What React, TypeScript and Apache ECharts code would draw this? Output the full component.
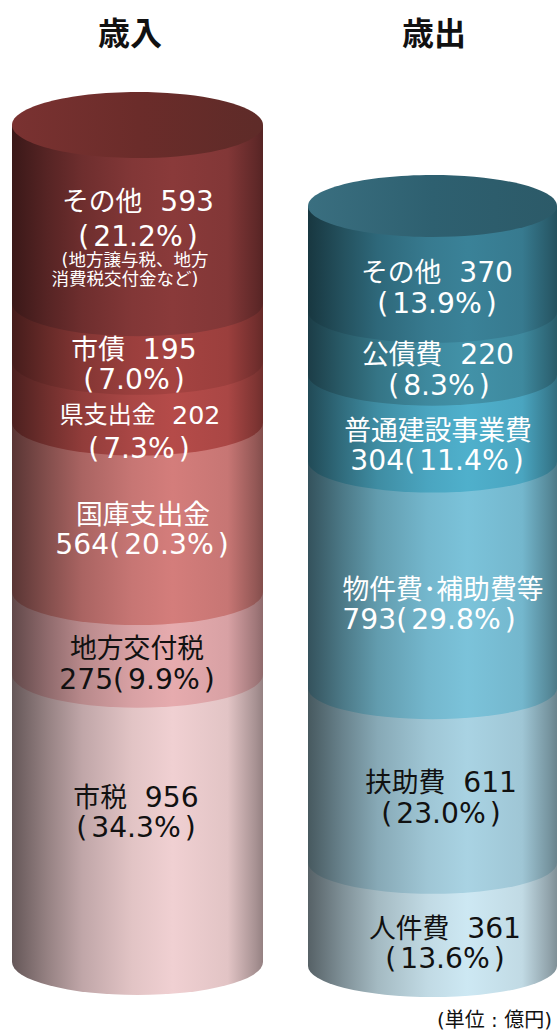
import React, { useEffect, useRef } from "react";
import * as echarts from "echarts";

// Values listed from the bottom of each cylinder to the top
const revenueNames = ["市税", "地方交付税", "国庫支出金", "県支出金", "市債", "その他"];
const revenueValues = [956, 275, 564, 202, 195, 593];
const revenueColors = ["#f0d0d2", "#e6abae", "#d47d7b", "#b54b49", "#a54341", "#8a3a3a"];
const revenueTop = ["#7a3231", "#6b2c2a", "#5e2b28"];

const expenseNames = ["人件費", "扶助費", "物件費・補助費等", "普通建設事業費", "公債費", "その他"];
const expenseValues = [361, 611, 793, 304, 220, 370];
const expenseColors = ["#cde8f3", "#a9d3e3", "#7bc3da", "#4fb0cc", "#4292a8", "#3a8298"];
const expenseTop = ["#3a6f80", "#2e6070", "#2c5a68"];

const WHITE = "#ffffff";
const DARK = "#111111";

// [text, centre x, centre y, colour, size factor]
const labelLines: [string, number, number, string, number][] = [
  ["その他  593", 138, 201, WHITE, 1],
  ["(21.2%)", 138, 236, WHITE, 1],
  ["市債  195", 134, 349, WHITE, 1],
  ["(7.0%)", 134, 379, WHITE, 1],
  ["県支出金  202", 140, 415, WHITE, 0.9],
  ["(7.3%)", 139, 448, WHITE, 1],
  ["国庫支出金", 143, 514, WHITE, 1],
  ["564(20.3%)", 142, 544, WHITE, 1],
  ["地方交付税", 137, 648, DARK, 1],
  ["275(9.9%)", 137, 679, DARK, 1],
  ["市税  956", 136, 797, DARK, 1],
  ["(34.3%)", 136, 827, DARK, 1],
  ["その他  370", 437, 272, WHITE, 1],
  ["(13.9%)", 437, 303, WHITE, 1],
  ["公債費  220", 438, 354, WHITE, 1],
  ["(8.3%)", 439, 385, WHITE, 1],
  ["普通建設事業費", 438, 430, WHITE, 1],
  ["304(11.4%)", 437, 460, WHITE, 1],
  ["物件費･補助費等", 443, 589, WHITE, 1],
  ["793(29.8%)", 429, 619, WHITE, 1],
  ["扶助費  611", 441, 782, DARK, 1],
  ["(23.0%)", 441, 813, DARK, 1],
  ["人件費  361", 445, 928, DARK, 1],
  ["(13.6%)", 445, 958, DARK, 1],
];
const noteLines: [string, number, number][] = [
  ["(地方譲与税、地方", 135, 260],
  ["消費税交付金など)", 125, 279],
];

const LATIN = '"DejaVu Sans",sans-serif';
const CJK = '"Noto Sans CJK JP",sans-serif';
const MIXED = '"DejaVu Sans","Noto Sans CJK JP",sans-serif';

function shade(hex: string, k: number) {
  const n = parseInt(hex.slice(1), 16);
  const ch = (s: number) => Math.round(((n >> s) & 255) * k);
  return `rgb(${ch(16)},${ch(8)},${ch(0)})`;
}
function bodyFill(c: string) {
  return new echarts.graphic.LinearGradient(0, 0, 1, 0, [
    { offset: 0, color: shade(c, 0.42) },
    { offset: 0.14, color: shade(c, 0.62) },
    { offset: 0.28, color: shade(c, 0.8) },
    { offset: 0.48, color: shade(c, 0.94) },
    { offset: 0.64, color: c },
    { offset: 0.86, color: shade(c, 0.94) },
    { offset: 0.97, color: shade(c, 0.7) },
    { offset: 1, color: shade(c, 0.62) },
  ]);
}

function cylinderSeries(
  axisIndex: number,
  names: string[],
  values: number[],
  colors: string[],
  topColors: string[],
  ry: number
) {
  let sum = 0;
  const data = values.map((v, i) => {
    const start = sum;
    sum += v;
    return { name: names[i], value: [0, start, sum] };
  });
  return {
    type: "custom",
    xAxisIndex: axisIndex,
    yAxisIndex: axisIndex,
    clip: false,
    silent: true,
    data,
    encode: { x: 0, y: [1, 2] },
    renderItem: (params: any, api: any) => {
      const bottom = api.coord([0, api.value(1)]);
      const top = api.coord([0, api.value(2)]);
      const w = api.size([1, 0])[0];
      const rx = w / 2;
      const xl = bottom[0] - rx;
      const xr = bottom[0] + rx;
      const yt = top[1];
      const yb = bottom[1];
      const children: any[] = [
        {
          type: "path",
          shape: {
            pathData: `M${xl} ${yt}L${xr} ${yt}L${xr} ${yb}A${rx} ${ry} 0 0 1 ${xl} ${yb}Z`,
          },
          style: { fill: bodyFill(colors[params.dataIndex]) },
        },
      ];
      if (params.dataIndex === values.length - 1) {
        children.push({
          type: "ellipse",
          shape: { cx: bottom[0], cy: yt, rx, ry },
          style: {
            fill: new echarts.graphic.LinearGradient(0, 0, 1, 0, [
              { offset: 0, color: topColors[0] },
              { offset: 0.5, color: topColors[1] },
              { offset: 1, color: topColors[2] },
            ]),
          },
        });
      }
      return { type: "group", children };
    },
  };
}

// Meiryo-like mix: wide latin digits beside slightly smaller kanji
function toRich(t: string) {
  return t
    .replace(/\(/g, "\u0001")
    .replace(/\)/g, "\u0002")
    .split(/(\u0001|\u0002|[0-9.% ]+)/)
    .filter((s) => s.length)
    .map((s) => {
      if (s === "\u0001") return "{pl|(}";
      if (s === "\u0002") return "{pr|)}";
      return /^[0-9.% ]+$/.test(s) ? `{d|${s}}` : `{k|${s}}`;
    })
    .join("");
}

function labelText(t: string, x: number, y: number, fill: string, f: number) {
  const d = { fontFamily: LATIN, fontSize: 28.2 * f, fill, lineHeight: 30 };
  return {
    type: "text",
    x,
    y,
    silent: true,
    z: 10,
    style: {
      text: toRich(t),
      fill,
      align: "center",
      verticalAlign: "middle",
      rich: {
        k: { fontFamily: MIXED, fontSize: 26.8 * f, fill, lineHeight: 30 },
        d,
        pl: { ...d, padding: [0, 4, 0, 0] },
        pr: { ...d, padding: [0, 0, 0, 4] },
      },
    },
  };
}

export default function App() {
  const ref = useRef<HTMLDivElement>(null);
  useEffect(() => {
    const chart = echarts.init(ref.current!, null, { renderer: "svg" });
    const text = (t: string, x: number, y: number, fill: string, size: number, weight: any = "normal", align: any = "center", family: string = CJK) => ({
      type: "text",
      x,
      y,
      silent: true,
      z: 10,
      style: { text: t, fill, font: `${weight} ${size}px ${family}`, textAlign: align, textVerticalAlign: "middle" },
    });
    chart.setOption({
      animation: false,
      backgroundColor: "#ffffff",
      grid: [
        { left: 12, top: 125, width: 251, height: 837 },
        { left: 308, top: 206, width: 251, height: 760 },
      ],
      xAxis: [
        { type: "category", gridIndex: 0, show: false, data: ["歳入"] },
        { type: "category", gridIndex: 1, show: false, data: ["歳出"] },
      ],
      yAxis: [
        { type: "value", gridIndex: 0, show: false, min: 0, max: revenueValues.reduce((a, b) => a + b, 0) },
        { type: "value", gridIndex: 1, show: false, min: 0, max: expenseValues.reduce((a, b) => a + b, 0) },
      ],
      series: [
        cylinderSeries(0, revenueNames, revenueValues, revenueColors, revenueTop, 33),
        cylinderSeries(1, expenseNames, expenseValues, expenseColors, expenseTop, 31),
      ],
      graphic: [
        text("歳入", 130, 31, DARK, 32, "bold"),
        text("歳出", 434, 31, DARK, 32, "bold"),
        ...labelLines.map(([t, x, y, c, f]) => labelText(t, x, y, c, f)),
        ...noteLines.map(([t, x, y]) => text(t, x, y, WHITE, 17.5, "normal", "center", MIXED)),
        text("(単位 : 億円)", 552, 1020, DARK, 20, "normal", "right", MIXED),
      ],
    });
    return () => chart.dispose();
  }, []);
  return <div ref={ref} style={{ width: 557, height: 1032, position: "absolute", left: 0, top: 0 }} />;
}
